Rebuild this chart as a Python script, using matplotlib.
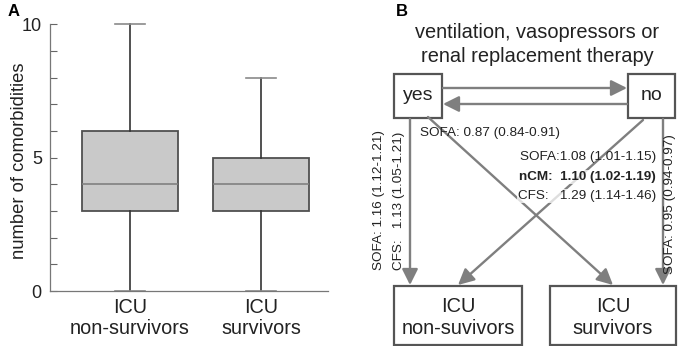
import matplotlib
matplotlib.use("Agg")
import matplotlib.pyplot as plt
from matplotlib.patches import Rectangle, FancyArrowPatch

plt.rcParams['font.family'] = ['Liberation Sans', 'DejaVu Sans']

# ---- data (panel A) ----
categories = ["ICU\nnon-survivors", "ICU\nsurvivors"]
whisker_low = [0, 0]
q1 = [3, 3]
median = [4, 4]
q3 = [6, 5]
whisker_high = [10, 8]

# ---- diagram labels (panel B) ----
title_lines = ["ventilation, vasopressors or", "renal replacement therapy"]
node_yes, node_no = "yes", "no"
node_nonsurv = "ICU\nnon-suvivors"
node_surv = "ICU\nsurvivors"
lab_yes_no = "SOFA: 0.87 (0.84-0.91)"
lab_no_nonsurv = ["SOFA:1.08 (1.01-1.15)", "nCM:  1.10 (1.02-1.19)", "CFS:   1.29 (1.14-1.46)"]
lab_yes_nonsurv = ["SOFA: 1.16 (1.12-1.21)", "CFS:   1.13 (1.05-1.21)"]
lab_no_surv = "SOFA: 0.95 (0.94-0.97)"

W, H = 685, 346
fig = plt.figure(figsize=(W / 100, H / 100), dpi=100)

# ---------------- Panel A ----------------
L, R, T, B = 49.5, 328, 24.3, 291
ax = fig.add_axes([L / W, 1 - B / H, (R - L) / W, (B - T) / H])
stats = []
for i in range(len(categories)):
    stats.append(dict(whislo=whisker_low[i], q1=q1[i], med=median[i], q3=q3[i],
                      whishi=whisker_high[i], fliers=[], label=categories[i]))
ax.bxp(stats, positions=[1, 2], widths=0.73, patch_artist=True, showfliers=False,
       boxprops=dict(facecolor='#c9c9c9', edgecolor='#505050', linewidth=1.3),
       medianprops=dict(color='#808080', linewidth=1.2),
       whiskerprops=dict(color='#333333', linewidth=1.2),
       capprops=dict(color='#8a8a8a', linewidth=1.2), capwidths=0.23)
for a in ax.get_children():
    try:
        a.set_clip_on(False)
    except Exception:
        pass
ax.set_xlim(0.3855, 2.511)
ax.set_ylim(0, 10)
ax.set_yticks([0, 5, 10])
ax.set_yticks(range(0, 11), minor=True)
ax.tick_params(axis='y', which='both', direction='in', length=5, width=0.8, colors='#666666',
               labelcolor='#222222', labelsize=13, pad=5.5)
ax.tick_params(axis='x', length=0, labelsize=14.3, labelcolor='#222222', pad=5)
for lab in ax.get_xticklabels():
    lab.set_linespacing(1.12)
for s in ['top', 'right']:
    ax.spines[s].set_visible(False)
for s in ['left', 'bottom']:
    ax.spines[s].set_color('#777777')
    ax.spines[s].set_linewidth(0.9)
ax.set_ylabel("number of comorbidities", fontsize=13.2, color='#222222')
ax.yaxis.set_label_coords((28 - L) / (R - L), 0.49)

fig.text(8 / W, 1 - 12 / H, "A", fontsize=12, fontweight='bold', va='center', ha='left')
fig.text(396 / W, 1 - 12 / H, "B", fontsize=12, fontweight='bold', va='center', ha='left')

# ---------------- Panel B ----------------
d = fig.add_axes([0, 0, 1, 1], facecolor='none')
d.set_xlim(0, W)
d.set_ylim(H, 0)
d.axis('off')

txt = '#222222'
arrow_c = '#7f7f7f'
box_c = '#555555'

d.text(537, 33, title_lines[0], ha='center', va='center', fontsize=14.4, color=txt)
d.text(537, 57, title_lines[1], ha='center', va='center', fontsize=14.4, color=txt)

def box(x0, y0, x1, y1):
    d.add_patch(Rectangle((x0, y0), x1 - x0, y1 - y0, fill=False, edgecolor=box_c,
                          linewidth=1.6, clip_on=False))

def arrow(p0, p1):
    d.add_patch(FancyArrowPatch(p0, p1, arrowstyle='-|>,head_length=0.6,head_width=0.3',
                                mutation_scale=16, color=arrow_c, linewidth=1.7,
                                shrinkA=0, shrinkB=0, clip_on=False))

box(394, 74, 442, 118)
box(628, 74, 675, 118)
box(394, 286, 522, 345)
box(550, 286, 676, 345)
d.text(418, 96, node_yes, ha='center', va='center', fontsize=14, color=txt)
d.text(652, 96, node_no, ha='center', va='center', fontsize=14, color=txt)
d.text(458, 317.5, node_nonsurv, ha='center', va='center', fontsize=14.4, color=txt, linespacing=1.25)
d.text(613, 317.5, node_surv, ha='center', va='center', fontsize=14.4, color=txt, linespacing=1.25)

arrow((443, 88), (627, 88))
arrow((627, 104), (443, 104))
arrow((410, 119), (410, 285))
arrow((663, 119), (663, 285))
arrow((428, 117), (613, 285))
arrow((643, 120), (458, 285))

sm = 9.7
bb = dict(facecolor='white', edgecolor='none', alpha=0.75, pad=0.5)
d.text(420, 133, lab_yes_no, ha='left', va='center', fontsize=sm, color=txt)
d.text(656, 157, lab_no_nonsurv[0], ha='right', va='center', fontsize=sm, color=txt)
d.text(656, 177, lab_no_nonsurv[1], ha='right', va='center', fontsize=sm, color=txt,
       fontweight='bold', bbox=bb)
d.text(656, 196, lab_no_nonsurv[2], ha='right', va='center', fontsize=sm, color=txt, bbox=bb)
d.text(379, 270, lab_yes_nonsurv[0], ha='center', va='bottom', rotation=90,
       fontsize=sm, color=txt)
d.text(399, 270, lab_yes_nonsurv[1], ha='center', va='bottom', rotation=90,
       fontsize=sm, color=txt)
d.text(670, 274, lab_no_surv, ha='center', va='bottom', rotation=90,
       fontsize=sm, color=txt)

fig.savefig("out.png", dpi=100)
